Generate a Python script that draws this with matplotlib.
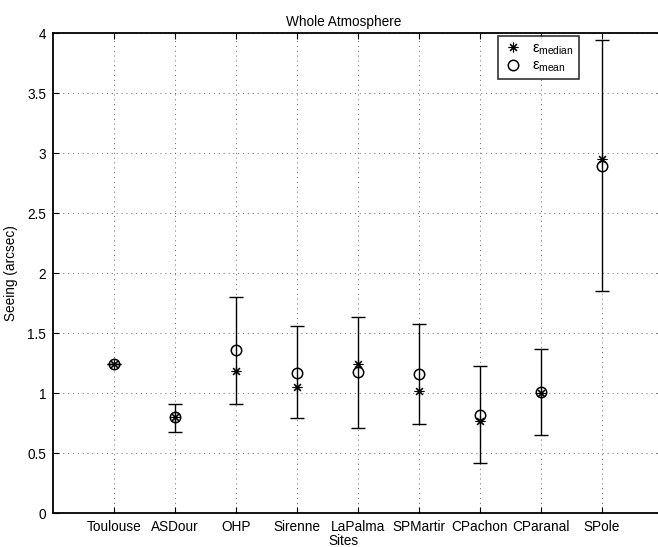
import numpy as np
import matplotlib
matplotlib.use("Agg")
from matplotlib import pyplot as plt

plt.rcParams['font.family'] = ['Liberation Sans', 'DejaVu Sans']
plt.rcParams['mathtext.fontset'] = 'custom'
plt.rcParams['mathtext.rm'] = 'Liberation Sans'
plt.rcParams['mathtext.it'] = 'Liberation Sans'
plt.rcParams['mathtext.default'] = 'regular'

# 数据
sites = ['Toulouse', 'ASDour', 'OHP', 'Sirenne', 'LaPalma', 'SPMartir', 'CPachon', 'CParanal', 'SPole']
seeing_median = [1.24, 0.80, 1.19, 1.05, 1.24, 1.02, 0.77, 1.00, 2.95]
seeing_mean = [1.24, 0.80, 1.36, 1.17, 1.18, 1.16, 0.82, 1.01, 2.89]
err_low = [1.24, 0.68, 0.91, 0.79, 0.71, 0.74, 0.42, 0.65, 1.85]
err_high = [1.24, 0.91, 1.80, 1.56, 1.64, 1.58, 1.23, 1.37, 3.94]

x = np.arange(1, len(sites) + 1)
mean = np.array(seeing_mean)
yerr = [mean - np.array(err_low), np.array(err_high) - mean]

fs = 9.8

fig = plt.figure(figsize=(6.58, 5.47), dpi=100)
ax = fig.add_axes([53 / 658, (547 - 513.3) / 547, 610 / 658, 480 / 547])

ax.errorbar(x, mean, yerr=yerr, fmt='none', ecolor='black', elinewidth=1.0,
            capsize=5, capthick=1.0, zorder=3)
ax.plot(x, seeing_median, linestyle='none', marker=(8, 2, 0), markersize=7,
        color='black', markeredgewidth=0.8, label=r'$\varepsilon_{median}$', zorder=4)
ax.plot(x, seeing_mean, linestyle='none', marker='o', markersize=7.5,
        markerfacecolor='none', markeredgecolor='black', markeredgewidth=1.1,
        label=r'$\varepsilon_{mean}$', zorder=4)

ax.set_xlim(0, 10)
ax.set_ylim(0, 4)
ax.set_xticks(x)
ax.set_xticklabels(sites, fontsize=fs)
ax.set_yticks(np.arange(0, 4.01, 0.5))
ax.set_yticklabels(['0', '0.5', '1', '1.5', '2', '2.5', '3', '3.5', '4'], fontsize=fs)
ax.tick_params(direction='in', length=4, width=0.8, top=True, right=True, pad=5)
ax.grid(True, linestyle=(0, (1, 4)), color='#666666', linewidth=0.7)
for s in ax.spines.values():
    s.set_linewidth(1.3)

ax.set_title('Whole Atmosphere', fontsize=fs, x=0.477, pad=5)
ax.set_xlabel('Sites', fontsize=fs)
ax.xaxis.set_label_coords(0.477, -0.044)
ax.set_ylabel('Seeing (arcsec)', fontsize=fs)
ax.yaxis.set_label_coords(-0.058, 0.5)

leg = ax.legend(loc='upper left', bbox_to_anchor=((498 - 53) / 610, 1 - 3 / 480),
                borderaxespad=0,
                fontsize=10.5, frameon=True, fancybox=False, edgecolor='black',
                handlelength=1.3, handletextpad=0.7, borderpad=0.35, labelspacing=0.15)
leg.get_frame().set_linewidth(1.2)

fig.savefig('out.png', dpi=100)
